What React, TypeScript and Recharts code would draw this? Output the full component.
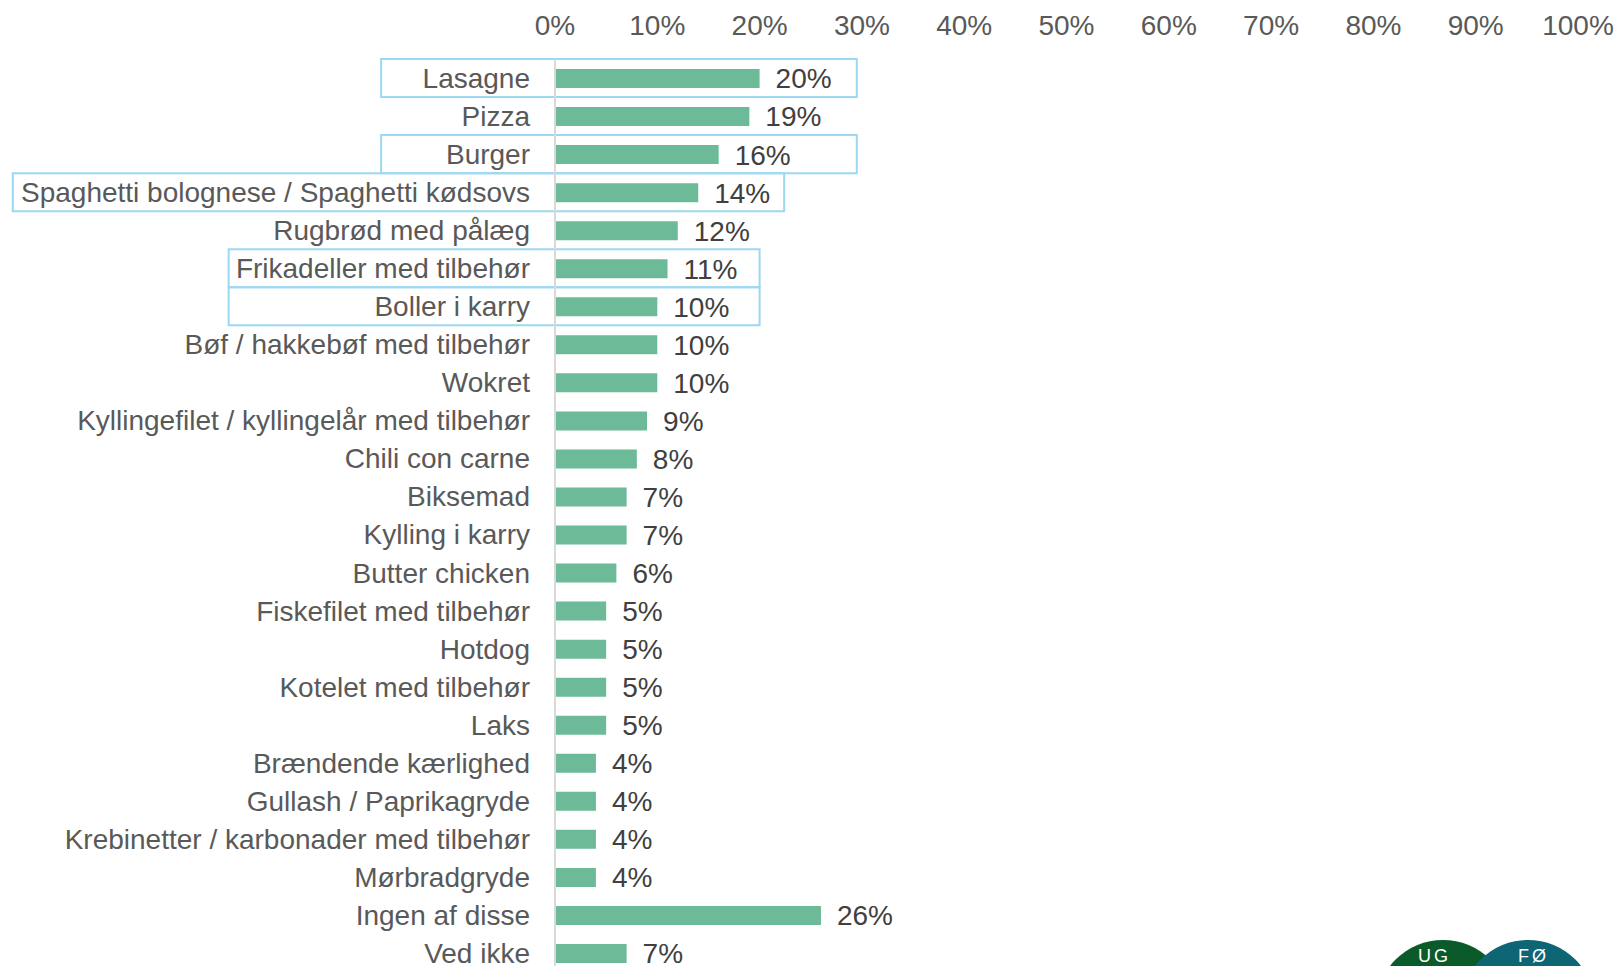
import React from 'react';
import { BarChart, Bar, XAxis, YAxis, LabelList, ReferenceArea } from 'recharts';

const categories = [
  'Lasagne',
  'Pizza',
  'Burger',
  'Spaghetti bolognese / Spaghetti kødsovs',
  'Rugbrød med pålæg',
  'Frikadeller med tilbehør',
  'Boller i karry',
  'Bøf / hakkebøf med tilbehør',
  'Wokret',
  'Kyllingefilet / kyllingelår med tilbehør',
  'Chili con carne',
  'Biksemad',
  'Kylling i karry',
  'Butter chicken',
  'Fiskefilet med tilbehør',
  'Hotdog',
  'Kotelet med tilbehør',
  'Laks',
  'Brændende kærlighed',
  'Gullash / Paprikagryde',
  'Krebinetter / karbonader med tilbehør',
  'Mørbradgryde',
  'Ingen af disse',
  'Ved ikke',
];

const shares = [20, 19, 16, 14, 12, 11, 10, 10, 10, 9, 8, 7, 7, 6, 5, 5, 5, 5, 4, 4, 4, 4, 26, 7];

const axisTicks = [0, 10, 20, 30, 40, 50, 60, 70, 80, 90, 100];

// highlighted rows: [category, left edge %, right edge %]
const highlights: [string, number, number][] = [
  ['Lasagne', -17, 29.5],
  ['Burger', -17, 29.5],
  ['Spaghetti bolognese / Spaghetti kødsovs', -53, 22.4],
  ['Frikadeller med tilbehør', -31.9, 20],
  ['Boller i karry', -31.9, 20],
];

const data = categories.map((name, i) => ({ name, value: shares[i] }));

const FONT = '"Liberation Sans", Arial, sans-serif';
const BAR_COLOR = '#6CBA98';
const BOX_COLOR = '#9DD8F2';

export default function App() {
  return (
    <div
      style={{
        position: 'fixed',
        top: 0,
        left: 0,
        width: 1618,
        height: 966,
        overflow: 'hidden',
        background: '#fff',
        fontFamily: FONT,
      }}
    >
      <BarChart
        width={1618}
        height={980}
        data={data}
        layout="vertical"
        margin={{ top: 29, right: 40, left: 0, bottom: 8 }}
      >
        <XAxis
          type="number"
          orientation="top"
          domain={[0, 100]}
          ticks={axisTicks}
          tickFormatter={(v) => `${v}%`}
          axisLine={false}
          tickLine={false}
          tickSize={0}
          tickMargin={24}
          height={30}
          tick={{ fill: '#595959', fontSize: 28, fontFamily: FONT }}
        />
        <YAxis
          type="category"
          dataKey="name"
          width={555}
          interval={0}
          tickLine={false}
          tickSize={0}
          tickMargin={25}
          axisLine={{ stroke: '#D9D9D9', strokeWidth: 2 }}
          tick={{ fill: '#595959', fontSize: 28, fontFamily: FONT }}
        />
        <Bar dataKey="value" fill={BAR_COLOR} barSize={19} isAnimationActive={false}>
          <LabelList
            dataKey="value"
            position="right"
            offset={16}
            formatter={(v: any) => `${v}%`}
            style={{ fill: '#404040', fontSize: 28, fontFamily: FONT }}
          />
        </Bar>
        {highlights.map(([cat, x1, x2]) => (
          <ReferenceArea
            key={cat}
            y1={cat}
            y2={cat}
            x1={x1}
            x2={x2}
            ifOverflow="visible"
            fill="none"
            fillOpacity={0}
            stroke={BOX_COLOR}
            strokeWidth={2}
            strokeOpacity={1}
          />
        ))}
      </BarChart>
      {/* logo peeking in at the bottom right */}
      <svg
        width={1618}
        height={966}
        style={{ position: 'absolute', top: 0, left: 0, pointerEvents: 'none' }}
      >
        <circle cx={1443} cy={1007} r={67} fill="#0B5A2A" />
        <circle cx={1528} cy={1007} r={67} fill="#0E6675" />
        <text x={1418} y={962} fill="#fff" fontSize={18} fontFamily={FONT} letterSpacing={3}>
          UG
        </text>
        <text x={1518} y={962} fill="#fff" fontSize={18} fontFamily={FONT} letterSpacing={3}>
          FØ
        </text>
      </svg>
    </div>
  );
}
